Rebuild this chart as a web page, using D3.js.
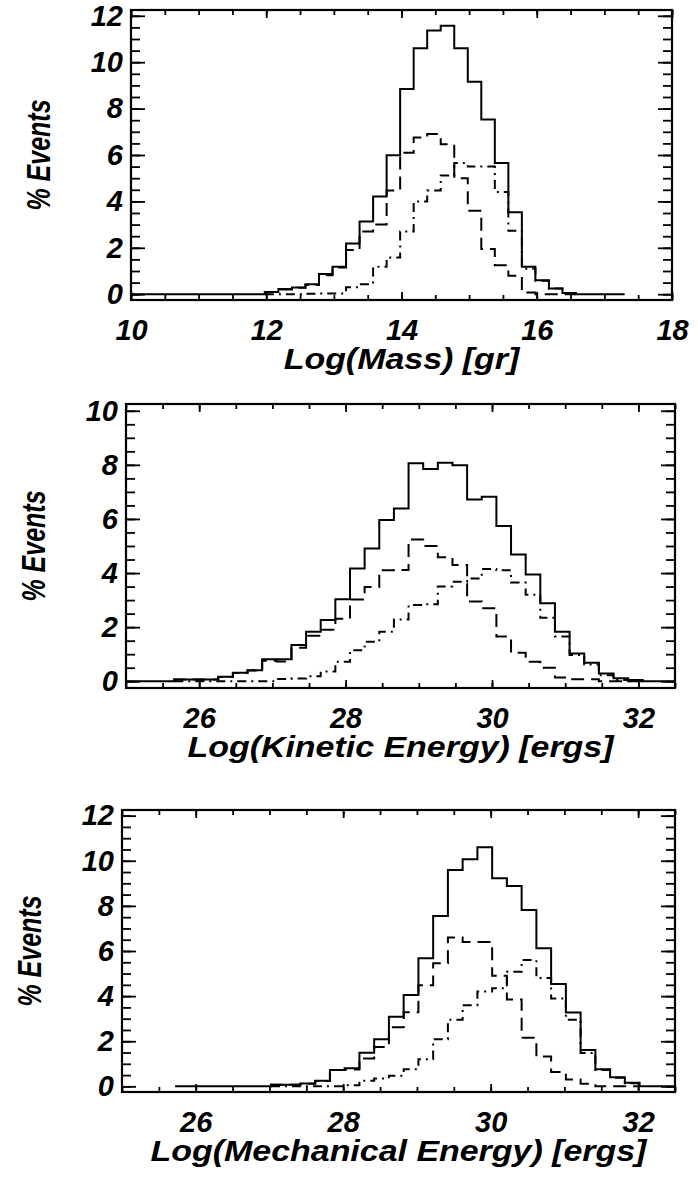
<!DOCTYPE html>
<html>
<head>
<meta charset="utf-8">
<script src="https://cdn.jsdelivr.net/npm/d3@7"></script>
<style>
  body { margin: 0; background: #fff; }
  svg text { font-family: "Liberation Sans", Arial, sans-serif; font-weight: bold; font-style: italic; fill: #000; }
</style>
</head>
<body>
<div id="chart"></div>
<script>
// ---- data (percent of events per bin) ----

// Panel 1: Log(Mass) [gr]
var massEdges = [11.98, 12.18, 12.38, 12.58, 12.78, 12.98, 13.18, 13.38, 13.58, 13.78, 13.98, 14.18,
                 14.38, 14.58, 14.78, 14.98, 15.18, 15.38, 15.58, 15.78, 15.98, 16.18, 16.38, 16.58];
var massAll     = [0.10, 0.22, 0.29, 0.43, 0.87, 1.18, 2.19, 3.13, 4.21, 5.99, 8.84, 10.6,
                   11.37, 11.57, 10.6, 9.16, 7.53, 5.65, 3.53, 1.18, 0.60, 0.25, 0.05];
var massDash    = [0.10, 0.20, 0.28, 0.40, 0.82, 1.15, 1.90, 2.70, 3.00, 4.47, 6.10, 6.75,
                   6.90, 6.46, 5.00, 3.60, 1.95, 1.25, 0.80, 0.07, 0, 0, 0];
var massDashDot = [0, 0, 0, 0.02, 0.03, 0.03, 0.30, 0.43, 1.18, 1.58, 2.70, 4.00,
                   4.47, 5.12, 5.65, 5.50, 5.50, 4.40, 2.74, 1.10, 0.58, 0.25, 0.05];
var massSpanAll = [10.0, 17.3];

// Panel 2: Log(Kinetic Energy) [ergs]
var kinEdges = [25.66, 26.26, 26.46, 26.66, 26.86, 27.06, 27.26, 27.46, 27.66, 27.86, 28.06,
                28.26, 28.46, 28.66, 28.86, 29.06, 29.26, 29.46, 29.66, 29.86, 30.06,
                30.26, 30.46, 30.66, 30.86, 31.06, 31.26, 31.46, 31.66, 31.86, 32.06];
var kinAll     = [0.06, 0.17, 0.31, 0.41, 0.81, 0.81, 1.34, 1.83, 2.26, 3.03, 4.17, 4.91, 5.96, 6.39, 8.06,
                  7.85, 8.08, 7.99, 6.72, 6.82, 5.74, 4.69, 3.95, 2.88, 1.83, 1.03, 0.68, 0.29, 0.11, 0.05];
var kinDash    = [0.06, 0.16, 0.30, 0.40, 0.76, 0.73, 1.24, 1.68, 1.90, 2.31, 3.02, 3.48, 4.10, 4.11, 5.24,
                  5.00, 4.58, 4.30, 2.95, 2.70, 1.65, 1.05, 0.72, 0.50, 0.14, 0.07, 0.07, 0, 0, 0];
var kinDashDot = [0, 0, 0, 0, 0, 0.08, 0.10, 0.18, 0.36, 0.72, 1.15, 1.46, 1.83, 2.28, 2.82,
                  2.85, 3.50, 3.68, 3.80, 4.15, 4.10, 3.65, 3.20, 2.35, 1.65, 0.97, 0.62, 0.22, 0.05, 0];
var kinSpanAll = [25.0, 32.5];

// Panel 3: Log(Mechanical Energy) [ergs]
var mechEdges = [27.02, 27.22, 27.42, 27.62, 27.82, 28.02, 28.22, 28.42, 28.62, 28.82, 29.02, 29.22, 29.42,
                 29.62, 29.82, 30.02, 30.22, 30.42, 30.62, 30.82, 31.02, 31.22, 31.42, 31.62, 31.82, 32.02];
var mechAll     = [0.07, 0.07, 0.13, 0.25, 0.73, 0.80, 1.49, 2.09, 3.09, 4.05, 5.68, 7.55, 9.59,
                   10.07, 10.6, 9.22, 8.88, 7.82, 6.12, 4.54, 3.27, 1.61, 0.76, 0.40, 0.16];
var mechDash    = [0.07, 0.07, 0.12, 0.24, 0.72, 0.75, 1.24, 1.74, 2.62, 3.29, 4.48, 5.46, 6.60,
                   6.40, 6.40, 4.90, 3.85, 2.15, 1.32, 0.64, 0.30, 0.12, 0, 0, 0];
var mechDashDot = [0, 0, 0, 0, 0, 0.05, 0.25, 0.35, 0.47, 0.76, 1.20, 2.09, 2.95,
                   3.60, 4.20, 4.35, 5.08, 5.60, 4.80, 3.90, 2.95, 1.48, 0.72, 0.38, 0.14];
var mechSpanAll = [25.72, 32.5];

// tick labels
var massTicks = [10, 12, 14, 16, 18];
var energyTicks = [26, 28, 30, 32];
var pct12Ticks = [0, 2, 4, 6, 8, 10, 12];
var pct10Ticks = [0, 2, 4, 6, 8, 10];

var svg = d3.select("#chart").append("svg")
    .attr("width", 698)
    .attr("height", 1177);

// Build the step outline of a histogram
function stepPoints(edges, values, span) {
    var pts = [[span ? span[0] : edges[0], 0]];
    values.forEach(function(v, i) { pts.push([edges[i], v]); });
    pts.push([edges[edges.length - 1], 0]);
    pts.push([span ? span[1] : edges[edges.length - 1], 0]);
    return pts;
}

function styleLabels(sel) {
    sel.selectAll("text").attr("font-size", 29).attr("fill", "#000");
}

function drawPanel(p, idx) {
    var x = d3.scaleLinear().domain(p.xDomain).range([p.left, p.right]);
    var y = d3.scaleLinear().domain(p.yDomain).range([p.bottom, p.top]);
    var w = p.right - p.left, h = p.bottom - p.top;
    var g = svg.append("g");

    // clip for the histogram lines
    g.append("clipPath").attr("id", "clip" + idx)
      .append("rect")
        .attr("x", p.left).attr("y", p.top)
        .attr("width", w).attr("height", h);

    var line = d3.line()
        .x(function(d) { return x(d[0]); })
        .y(function(d) { return y(d[1]); })
        .curve(d3.curveStepAfter);

    var series = [
        {values: p.dashDot, span: null, dash: "9,5,2,5"},
        {values: p.dash, span: null, dash: "13,7"},
        {values: p.all, span: p.spanAll, dash: null}
    ];
    g.append("g").attr("clip-path", "url(#clip" + idx + ")")
      .selectAll("path")
      .data(series)
      .enter()
      .append("path")
        .attr("d", function(d) { return line(stepPoints(p.edges, d.values, d.span)); })
        .attr("fill", "none")
        .attr("stroke", "#000")
        .attr("stroke-width", 2)
        .attr("stroke-dasharray", function(d) { return d.dash; });

    // IDL-like inward ticks on all four sides
    var xMinor = d3.range(p.xDomain[0], p.xDomain[1] + 0.001, 0.5);
    var yMinor = d3.range(0, p.yDomain[1], 0.5);
    var xMaj = 8, xMin = 5, yMaj = 14, yMin = 9;

    var axes = [
        [d3.axisBottom(x).tickValues(xMinor).tickSize(-xMin).tickFormat(""), "translate(0," + p.bottom + ")"],
        [d3.axisTop(x).tickValues(xMinor).tickSize(-xMin).tickFormat(""), "translate(0," + p.top + ")"],
        [d3.axisTop(x).tickValues(p.xTicks).tickSize(-xMaj).tickFormat(""), "translate(0," + p.top + ")"],
        [d3.axisLeft(y).tickValues(yMinor).tickSize(-yMin).tickFormat(""), "translate(" + p.left + ",0)"],
        [d3.axisRight(y).tickValues(yMinor).tickSize(-yMin).tickFormat(""), "translate(" + p.right + ",0)"],
        [d3.axisRight(y).tickValues(p.yTicks).tickSize(-yMaj).tickFormat(""), "translate(" + p.right + ",0)"]
    ];
    axes.forEach(function(a) {
        var ag = g.append("g").attr("transform", a[1]).call(a[0]);
        ag.select(".domain").remove();
        ag.selectAll("line").attr("stroke", "#000").attr("stroke-width", 1.8);
    });

    var xAxis = g.append("g")
        .attr("transform", "translate(0," + p.bottom + ")")
        .call(d3.axisBottom(x).tickValues(p.xTicks).tickSizeInner(-xMaj).tickSizeOuter(0)
              .tickPadding(19).tickFormat(d3.format("d")));
    xAxis.select(".domain").remove();
    xAxis.selectAll("line").attr("stroke", "#000").attr("stroke-width", 1.8);
    styleLabels(xAxis);

    var yAxis = g.append("g")
        .attr("transform", "translate(" + p.left + ",0)")
        .call(d3.axisLeft(y).tickValues(p.yTicks).tickSizeInner(-yMaj).tickSizeOuter(0)
              .tickPadding(8).tickFormat(d3.format("d")));
    yAxis.select(".domain").remove();
    yAxis.selectAll("line").attr("stroke", "#000").attr("stroke-width", 1.8);
    styleLabels(yAxis);

    // frame
    g.append("rect")
        .attr("x", p.left).attr("y", p.top)
        .attr("width", w).attr("height", h)
        .attr("fill", "none")
        .attr("stroke", "#000")
        .attr("stroke-width", 2.2);

    // x title, a little wider than the natural font
    var cx = (p.left + p.right) / 2;
    var title = g.append("text")
        .attr("y", p.bottom + 69)
        .attr("font-size", 29)
        .text(p.xTitle);
    var natural = title.node().getComputedTextLength();
    var target = natural * 1.17;
    title.attr("x", cx - target / 2)
        .attr("textLength", target)
        .attr("lengthAdjust", "spacingAndGlyphs");

    // y title
    g.append("text")
        .attr("transform", "translate(" + (p.left - 93) + "," + ((p.top + p.bottom) / 2) + ") rotate(-90) scale(1,1.35)")
        .attr("text-anchor", "middle")
        .attr("dy", "0.36em")
        .attr("font-size", 25)
        .attr("fill", "#111")
        .text("% Events");
}

var panels = [
    {left: 131, right: 672, top: 10, bottom: 300, xDomain: [10, 18], yDomain: [-0.25, 12.25],
     xTicks: massTicks, yTicks: pct12Ticks, edges: massEdges, all: massAll, dash: massDash,
     dashDot: massDashDot, spanAll: massSpanAll, xTitle: "Log(Mass) [gr]"},
    {left: 126, right: 675, top: 404, bottom: 688, xDomain: [25, 32.5], yDomain: [-0.25, 10.25],
     xTicks: energyTicks, yTicks: pct10Ticks, edges: kinEdges, all: kinAll, dash: kinDash,
     dashDot: kinDashDot, spanAll: kinSpanAll, xTitle: "Log(Kinetic Energy) [ergs]"},
    {left: 122, right: 675, top: 810, bottom: 1092, xDomain: [25, 32.5], yDomain: [-0.25, 12.25],
     xTicks: energyTicks, yTicks: pct12Ticks, edges: mechEdges, all: mechAll, dash: mechDash,
     dashDot: mechDashDot, spanAll: mechSpanAll, xTitle: "Log(Mechanical Energy) [ergs]"}
];

panels.forEach(drawPanel);
</script>
</body>
</html>
